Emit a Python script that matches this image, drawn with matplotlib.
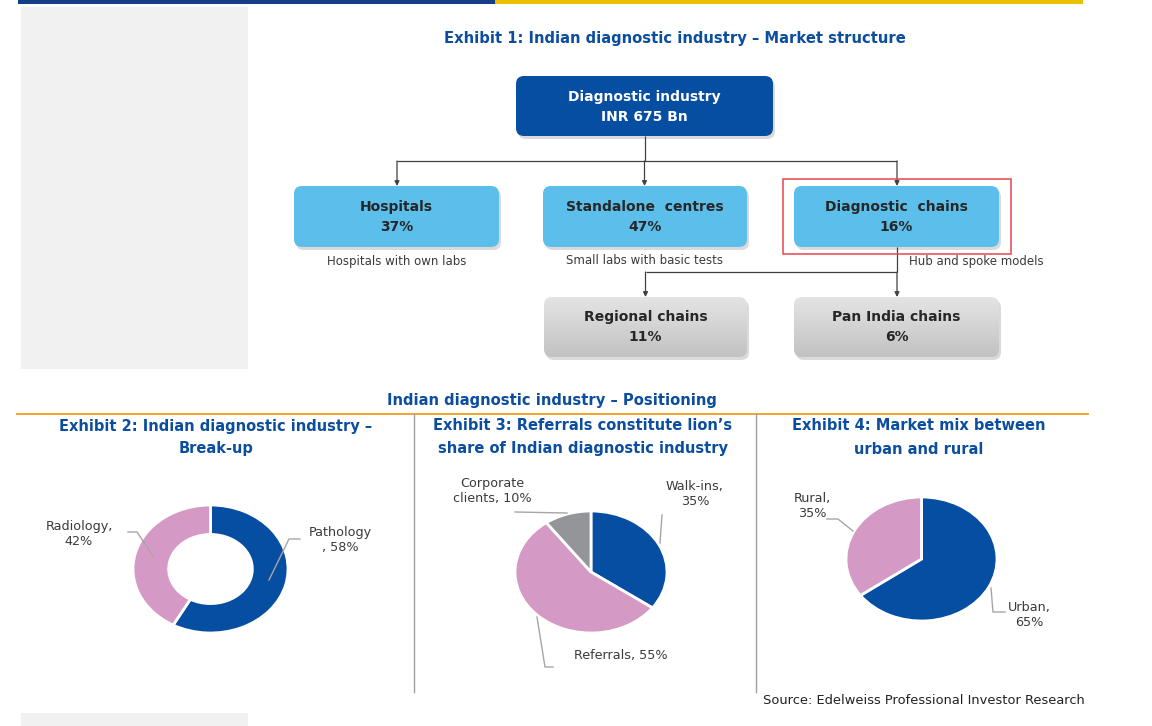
import numpy as np
import matplotlib
matplotlib.use("Agg")
import matplotlib.pyplot as plt
from matplotlib.patches import FancyBboxPatch, Rectangle
from matplotlib.colors import LinearSegmentedColormap

# ---------------- data ----------------
top_node = ["Diagnostic industry", "INR 675 Bn"]
mid_nodes = ["Hospitals", "Standalone  centres", "Diagnostic  chains"]
mid_share = ["37%", "47%", "16%"]
mid_notes = ["Hospitals with own labs", "Small labs with basic tests", "Hub and spoke models"]
sub_nodes = ["Regional chains", "Pan India chains"]
sub_share = ["11%", "6%"]

ex2_labels = ["Pathology", "Radiology"]
ex2_values = [58, 42]
ex3_labels = ["Walk-ins", "Referrals", "Corporate clients"]
ex3_values = [35, 55, 10]
ex4_labels = ["Urban", "Rural"]
ex4_values = [65, 35]

BLUE = "#064EA2"
PINK = "#D49AC5"
GREY = "#939598"
LBLUE = "#5CBEEB"
TITLE = "#0B4EA0"
TXT = "#3A3A3A"
LINE = "#404040"

W, H = 1152, 726
fig = plt.figure(figsize=(W / 100, H / 100), dpi=100)
fig.patch.set_facecolor("white")

ax = fig.add_axes([0, 0, 1, 1])
ax.set_xlim(0, W)
ax.set_ylim(H, 0)
ax.axis("off")

FONT = "DejaVu Sans"

# ---------------- page decorations ----------------
ax.add_patch(Rectangle((18, 0), 477, 3.5, color="#123F86", lw=0))
ax.add_patch(Rectangle((495, 0), 588, 3.5, color="#E8C000", lw=0))
ax.add_patch(Rectangle((21, 7), 227, 362, color="#F1F1F1", lw=0))
ax.add_patch(Rectangle((21, 713), 227, 13, color="#F1F1F1", lw=0))

ax.text(675, 38, "Exhibit 1: Indian diagnostic industry – Market structure",
        ha="center", va="center", fontsize=10.6, fontweight="bold", color=TITLE, family=FONT)


def box(x0, y0, x1, y1, fc, shadow=True, gradient=None):
    if shadow:
        ax.add_patch(FancyBboxPatch((x0 + 2, y0 + 3), x1 - x0, y1 - y0,
                                    boxstyle="round,pad=0,rounding_size=8",
                                    fc="#BDBDBD", ec="none", alpha=0.55, zorder=1))
    p = FancyBboxPatch((x0, y0), x1 - x0, y1 - y0,
                       boxstyle="round,pad=0,rounding_size=8",
                       fc=fc if gradient is None else "none", ec="none", zorder=2)
    ax.add_patch(p)
    if gradient is not None:
        g = np.linspace(0, 1, 64).reshape(-1, 1)
        im = ax.imshow(g, cmap=gradient, extent=(x0, x1, y1, y0), origin="upper",
                       aspect="auto", zorder=2)
        im.set_clip_path(p)


grey_grad = LinearSegmentedColormap.from_list("gg", ["#E4E4E4", "#C2C2C2"])
BFS = 10.0

# top node
box(516, 76, 773, 136, BLUE)
ax.text(644.5, 97, top_node[0], ha="center", va="center", fontsize=BFS,
        fontweight="bold", color="white", family=FONT, zorder=5)
ax.text(644.5, 117, top_node[1], ha="center", va="center", fontsize=BFS,
        fontweight="bold", color="white", family=FONT, zorder=5)

mid_x = [(294, 499), (543, 747), (794, 999)]
for (x0, x1), name, share in zip(mid_x, mid_nodes, mid_share):
    box(x0, 186, x1, 247, LBLUE)
    cx = (x0 + x1) / 2
    ax.text(cx, 207, name, ha="center", va="center", fontsize=BFS,
            fontweight="bold", color="#262626", family=FONT, zorder=5)
    ax.text(cx, 227, share, ha="center", va="center", fontsize=BFS,
            fontweight="bold", color="#262626", family=FONT, zorder=5)

NFS = 8.5
ax.text(396.5, 261, mid_notes[0], ha="center", va="center", fontsize=NFS, color=TXT, family=FONT)
ax.text(645, 261, mid_notes[1], ha="center", va="center", fontsize=NFS, color=TXT, family=FONT)
ax.text(909, 261, mid_notes[2], ha="left", va="center", fontsize=NFS, color=TXT, family=FONT)

# red highlight
ax.add_patch(Rectangle((783, 179), 228, 75, fill=False, ec="#E8454A", lw=1.1, zorder=6))

sub_x = [(544, 747), (794, 999)]
for (x0, x1), name, share in zip(sub_x, sub_nodes, sub_share):
    box(x0, 297, x1, 357, None, gradient=grey_grad)
    cx = (x0 + x1) / 2
    ax.text(cx, 317, name, ha="center", va="center", fontsize=BFS,
            fontweight="bold", color="#262626", family=FONT, zorder=5)
    ax.text(cx, 337, share, ha="center", va="center", fontsize=BFS,
            fontweight="bold", color="#262626", family=FONT, zorder=5)

# connectors
lk = dict(color=LINE, lw=0.9, zorder=3, solid_capstyle="butt")
ax.plot([644.5, 644.5], [136, 161], **lk)
ax.plot([397, 897], [161, 161], **lk)
arr = dict(arrowstyle="-|>", color=LINE, lw=0.9, mutation_scale=7, shrinkA=0, shrinkB=0)
for x in (397, 644.5, 897):
    ax.annotate("", xy=(x, 186), xytext=(x, 161), arrowprops=arr, zorder=4)
ax.plot([897, 897], [247, 272], **lk)
ax.plot([645.5, 897], [272, 272], **lk)
ax.annotate("", xy=(645.5, 297), xytext=(645.5, 272), arrowprops=arr, zorder=4)
ax.annotate("", xy=(897, 297), xytext=(897, 272), arrowprops=arr, zorder=4)

# ---------------- positioning section ----------------
ax.text(552, 400, "Indian diagnostic industry – Positioning", ha="center", va="center",
        fontsize=10.6, fontweight="bold", color=TITLE, family=FONT)
ax.plot([17, 1088], [414, 414], color="#F39C1F", lw=1.3)
ax.plot([414, 414], [414, 692], color="#A0A0A0", lw=1.0)
ax.plot([756, 756], [414, 692], color="#A0A0A0", lw=1.0)

tk = dict(ha="center", va="center", fontsize=10.5, fontweight="bold", color=TITLE, family=FONT)
ax.text(216, 426, "Exhibit 2: Indian diagnostic industry –", **tk)
ax.text(216, 449, "Break-up", **tk)
ax.text(583, 426, "Exhibit 3: Referrals constitute lion’s", **tk)
ax.text(583, 449, "share of Indian diagnostic industry", **tk)
ax.text(919, 426, "Exhibit 4: Market mix between", **tk)
ax.text(919, 449, "urban and rural", **tk)

ax.text(1085, 700, "Source: Edelweiss Professional Investor Research", ha="right", va="center",
        fontsize=9.4, color="#222222", family=FONT)


def pie_axes(x0, y0, x1, y1):
    return fig.add_axes([x0 / W, 1 - y1 / H, (x1 - x0) / W, (y1 - y0) / H])


def draw_pie(a, values, colors, width=None):
    wp = dict(edgecolor="white", linewidth=2)
    if width is not None:
        wp["width"] = width
    a.pie(values, colors=colors, startangle=90, counterclock=False,
          radius=1, wedgeprops=wp)
    a.set_aspect("auto")
    a.set_xlim(-1.0, 1.0)
    a.set_ylim(-1.0, 1.0)
    a.axis("off")


a2 = pie_axes(133, 505, 288, 633)
draw_pie(a2, ex2_values, [BLUE, PINK], width=0.46)
a3 = pie_axes(515, 511, 667, 633)
draw_pie(a3, ex3_values, [BLUE, PINK, GREY])
a4 = pie_axes(846, 497, 997, 621)
draw_pie(a4, ex4_values, [BLUE, PINK])

# overlay for labels & leader lines
ov = fig.add_axes([0, 0, 1, 1])
ov.set_xlim(0, W)
ov.set_ylim(H, 0)
ov.axis("off")
ov.patch.set_alpha(0)

ld = dict(color="#A6A6A6", lw=1.0)
lt = dict(ha="center", va="center", fontsize=9.2, color=TXT, family=FONT, linespacing=1.15)

# exhibit 2
ov.text(79, 534, f"{ex2_labels[1]},\n{ex2_values[1]}%", **lt)
ov.plot([128, 137, 153], [532, 532, 556], **ld)
ov.text(340, 540, f"{ex2_labels[0]}\n, {ex2_values[0]}%", **lt)
ov.plot([300, 289, 269], [539, 539, 580], **ld)

# exhibit 3
ov.text(492, 491, "Corporate\nclients, " + f"{ex3_values[2]}%", **lt)
ov.plot([515, 567], [512, 513], **ld)
ov.text(695, 494, f"{ex3_labels[0]},\n{ex3_values[0]}%", **lt)
ov.plot([662, 660], [515, 543], **ld)
ov.text(621, 656, f"{ex3_labels[1]}, {ex3_values[1]}%", **lt)
ov.plot([537, 545, 553], [617, 667, 667], **ld)

# exhibit 4
ov.text(812, 506, f"{ex4_labels[1]},\n{ex4_values[1]}%", **lt)
ov.plot([827, 838, 853], [519, 519, 531], **ld)
ov.text(1029, 615, f"{ex4_labels[0]},\n{ex4_values[0]}%", **lt)
ov.plot([991, 993, 1005], [588, 612, 612], **ld)

fig.savefig("out.png", dpi=100, facecolor="white")
